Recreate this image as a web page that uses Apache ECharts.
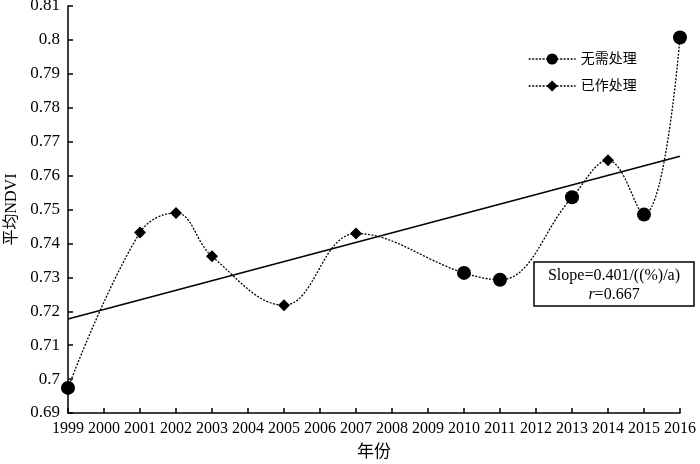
<!DOCTYPE html>
<html>
<head>
<meta charset="utf-8">
<script src="https://cdn.jsdelivr.net/npm/echarts@6/dist/echarts.min.js"></script>
<style>html,body{margin:0;padding:0;background:#fff;}#c{width:700px;height:464px;}</style>
</head>
<body>
<div id="c"></div>
<script>
// Data
const years = [1999, 2001, 2002, 2003, 2005, 2007, 2010, 2011, 2013, 2014, 2015, 2016];
const ndvi = [0.6974, 0.7432, 0.7490, 0.7362, 0.7218, 0.7429, 0.7313, 0.7293, 0.7536, 0.7645, 0.7485, 0.8007];
const treatment = ['无需处理', '已作处理', '已作处理', '已作处理', '已作处理', '已作处理', '无需处理', '无需处理', '无需处理', '已作处理', '无需处理', '无需处理'];
const seriesNames = ['无需处理', '已作处理'];
const trendYears = [1999, 2016];
const trendValues = [0.7177, 0.7657];
const annotationLines = ['Slope=0.401/((%)/a)', 'r=0.667'];
const xAxisTitle = '年份';
const yAxisTitle = '平均NDVI';

const serif = '"Liberation Serif","Times New Roman","Noto Sans CJK SC",serif';
const allPts = years.map((y, i) => [y, ndvi[i]]);
const ptsFor = name => years.map((y, i) => treatment[i] === name ? [y, ndvi[i]] : null).filter(p => p);
const dotted = [2, 1.5];

const chart = echarts.init(document.getElementById('c'), null, {renderer: 'canvas'});
chart.setOption({
  animation: false,
  backgroundColor: '#fff',
  grid: {left: 68, right: 20, top: 6, bottom: 51, containLabel: false, outerBoundsMode: 'none'},
  xAxis: {
    type: 'value', min: 1999, max: 2016, interval: 1,
    name: xAxisTitle, nameLocation: 'middle', nameGap: 31,
    nameTextStyle: {fontFamily: serif, fontSize: 17, color: '#000'},
    axisLine: {lineStyle: {color: '#000', width: 1.5}},
    axisTick: {inside: true, length: 5, lineStyle: {color: '#000', width: 1.5}},
    axisLabel: {fontFamily: serif, fontSize: 16, color: '#000', margin: 8, formatter: v => String(v)},
    splitLine: {show: false}
  },
  yAxis: {
    type: 'value', min: 0.69, max: 0.81, interval: 0.01,
    name: yAxisTitle, nameLocation: 'middle', nameGap: 47, nameRotate: 90,
    nameTextStyle: {fontFamily: serif, fontSize: 16, color: '#000'},
    axisLine: {show: true, lineStyle: {color: '#000', width: 1.5}},
    axisTick: {show: true, inside: true, length: 5, lineStyle: {color: '#000', width: 1.5}},
    axisLabel: {fontFamily: serif, fontSize: 17, color: '#000', margin: 8},
    splitLine: {show: false}
  },
  legend: {
    orient: 'vertical', left: 523, top: 47, itemWidth: 47, itemHeight: 14, itemGap: 13,
    textStyle: {fontFamily: serif, fontSize: 14, color: '#000'},
    data: [
      {name: seriesNames[0], lineStyle: {color: '#000', width: 1.3, type: dotted, opacity: 1}},
      {name: seriesNames[1], lineStyle: {color: '#000', width: 1.3, type: dotted, opacity: 1}}
    ]
  },
  series: [
    {
      name: 'curve', type: 'line', data: allPts, smooth: 0.4, symbol: 'none', silent: true,
      lineStyle: {color: '#000', width: 1.3, type: dotted}, z: 2
    },
    {
      name: 'trend', type: 'line', data: trendYears.map((y, i) => [y, trendValues[i]]),
      symbol: 'none', silent: true, lineStyle: {color: '#000', width: 1.5, type: 'solid'}, z: 3
    },
    {
      name: seriesNames[0], type: 'line', data: ptsFor(seriesNames[0]), symbol: 'circle', symbolSize: 14,
      itemStyle: {color: '#000'}, lineStyle: {opacity: 0, width: 0}, z: 5
    },
    {
      name: seriesNames[1], type: 'line', data: ptsFor(seriesNames[1]), symbol: 'diamond', symbolSize: 12,
      itemStyle: {color: '#000'}, lineStyle: {opacity: 0, width: 0}, z: 5
    }
  ],
  graphic: [
    {
      type: 'rect', x: 534, y: 262, z: 10,
      shape: {x: 0, y: 0, width: 160, height: 44},
      style: {fill: '#fff', stroke: '#000', lineWidth: 1.5}
    },
    {
      type: 'text', x: 614, y: 266, z: 11,
      style: {
        text: annotationLines[0] + '\n{i|r}{n|' + annotationLines[1].slice(1) + '}',
        font: '16px ' + serif, fill: '#000', align: 'center', verticalAlign: 'top', lineHeight: 19,
        rich: {
          i: {fontFamily: serif, fontSize: 16, fontStyle: 'italic', fill: '#000', lineHeight: 19},
          n: {fontFamily: serif, fontSize: 16, fill: '#000', lineHeight: 19}
        }
      }
    }
  ]
});
</script>
</body>
</html>
